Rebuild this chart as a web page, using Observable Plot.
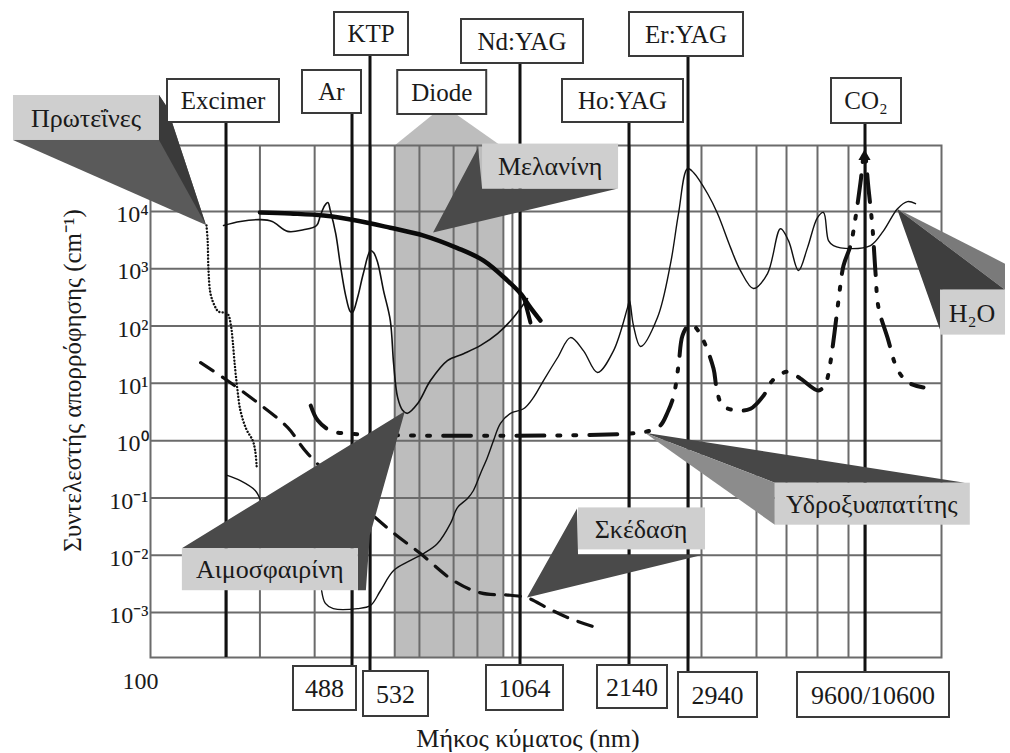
<!DOCTYPE html>
<html><head><meta charset="utf-8">
<script src="https://cdn.jsdelivr.net/npm/d3@7"></script>
<script src="https://cdn.jsdelivr.net/npm/@observablehq/plot@0.6"></script>
<style>body{margin:0;background:#fff;} #chart svg{display:block}</style>
</head><body><div id="chart"></div>
<script>
// ---------------- data (wavelength nm, absorption coefficient cm^-1) ----------------
const axisKnotWavelengths = [100, 308, 488, 532, 1064, 2140, 2940, 10600, 20000];
const yDecades = [1e-3, 1e-2, 1e-1, 1, 10, 100, 1e3, 1e4];
const yTickLabels = ["10⁻³", "10⁻²", "10⁻¹", "10⁰", "10¹", "10²", "10³", "10⁴"];
const xGridWavelengths = [308, 348, 425, 488, 532, 595, 667, 781, 872, 983, 1025, 1064, 2140, 2940, 3230, 4812, 5981, 7486, 9371, 10600];
const xStartLabel = ["100"];
const laserNames = ["Excimer", "Ar", "KTP", "Nd:YAG", "Ho:YAG", "Er:YAG", "CO₂"];
const laserWavelengths = [308, 488, 532, 1064, 2140, 2940, 10600];
const bottomLabels = ["488", "532", "1064", "2140", "2940", "9600/10600"];
const bottomLabelWavelengths = [488, 532, 1064, 2140, 2940, 10600];
const diodeName = "Diode";
const diodeBand = [595, 983];
const xTitle = "Μήκος κύματος (nm)";
const yTitle = "Συντελεστής απορρόφησης (cm⁻¹)";

const proteins = [[229,5700],[233,3100],[236,930],[243,370],[258,228],[274,179],[309,165],[313,102],[315,56],[317,25],[320,9.2],[324,3.4],[331,1.6],[339,1.0],[342,0.67],[344,0.33]];
const hemoglobin = [[295,5700],[324,6700],[349,7200],[364,6700],[385,4500],[408,4800],[428,5700],[434,8500],[441,12700],[446,14300],[450,10400],[459,4100],[467,1140],[476,341],[484,179],[488,172],[500,315],[514,826],[532,2080],[540,1900],[550,1280],[565,417],[583,125],[592,22],[603,5.7],[617,3.4],[631,3.0],[661,4.4],[702,11.2],[759,25],[818,33],[885,46],[957,74],[1030,141],[1113,302]];
const melanin = [[348,9600],[389,9200],[439,8500],[500,6900],[583,5200],[680,3800],[795,2300],[897,1390],[1002,622],[1064,370],[1134,210],[1209,125]];
const melaninTail = [[1090,300],[1134,115]];
const scattering = [[210,23],[309,11.2],[345,4.6],[385,1.7],[414,0.6],[575,0.03],[670,0.0107],[781,0.0036],[885,0.0022],[1016,0.002],[1113,0.0018],[1265,0.0012],[1438,8.2e-4],[1721,5.5e-4]];
const hydroxyapatite = [[419,4.1],[430,2.24],[450,1.5],[479,1.33],[2150,1.33],[2396,1.5],[2528,1.84],[2626,3.1],[2712,5.9],[2786,20.5],[2846,68],[2940,102],[3048,102],[3253,60.5],[3524,18.2],[3601,8.5],[3761,4.1],[4193,3.36],[4608,3.6],[5062,6.1],[5402,11.2],[6025,16],[6620,12.1],[7541,7.5],[7932,9.9],[8166,18.9],[8406,56],[8716,279],[9040,1140],[9508,2540],[9860,7800],[10222,32000],[10524,107000],[10870,25000],[11239,5200],[11524,859],[11816,210],[12741,63],[13851,17.4],[15185,10.3],[17206,8.5]];
const co2Peak = [[10524,107000]];
const water = [[436,2.4e-3],[442,1.44e-3],[455,1.17e-3],[500,1.17e-3],[532,1.33e-3],[557,2.4e-3],[592,5.4e-3],[640,8.1e-3],[680,0.0107],[725,0.016],[770,0.036],[795,0.068],[833,0.098],[856,0.135],[885,0.27],[913,0.51],[939,1.0],[970,2.0],[1016,3.0],[1085,3.6],[1157,5.7],[1233,11.2],[1349,28],[1466,63],[1594,37],[1743,15.5],[1931,37],[2113,210],[2140,279],[2186,102],[2271,44],[2488,141],[2669,1230],[2786,9200],[2924,56000],[3048,48000],[3374,20600],[3628,9200],[3987,2340],[4284,931],[4709,452],[5212,826],[5726,5000],[6067,3100],[6523,931],[6964,2340],[7486,7800],[7819,9600],[8107,3100],[8406,2540],[9508,2250],[11052,2540],[12318,4600],[13851,11200],[15060,14900],[16096,13700]];
const uvArc = [[308,0.25],[324,0.2],[342,0.135],[349,0.09]];

const calloutNames = ["Πρωτεΐνες", "Μελανίνη", "Αιμοσφαιρίνη", "Σκέδαση", "Υδροξυαπατίτης", "H₂O"];
const calloutTips = [[229,5700],[712,4200],[625,3.2],[1113,1.8e-3],[2330,1.35],[13851,11000]];

// ---------------- layout (pixels) ----------------
const layout = {
  xKnotPx: [150, 226, 352, 370, 520, 629, 688, 865, 941],
  topBoxes: [[-59,53,79,122],[-50,9,70,113],[-36,38,12,55],[-59,63,19,63],[-67,54,79,122],[-59,55,12,56],[-34,36,78,123]],
  lineBottom: [657, 666, 671, 665, 665, 672, 672],
  bottomBoxes: [[-59,4,666,710],[-7,58,671,716],[-34,43,665,710],[-32,38,665,708],[-10,69,672,717],[-68,84,672,717]],
  diodeBox: [3, 92, 70, 114],
  diodeTrap: {x: [1, 38, 63], rightInset: -3, top: 115, bottom: 145},
  callouts: [
    {box: [-193,-130,146,45], text: [-120,-107], faces: [
      {fill: "#5a5a5a", pts: [[-193,-85],[0,0],[-39,-118],[-47,-130]]},
      {fill: "#3a3a3a", pts: [[-47,-130],[-39,-118],[0,0],[-47,-85]]}]},
    {box: [49,-89,136,45], text: [117,-67], faces: [
      {fill: "#4a4a4a", pts: [[45,-85],[0,0],[185,-44],[49,-44]]}]},
    {box: [-223,137,176,42], text: [-135,158], faces: [
      {fill: "#4a4a4a", pts: [[-223,137],[0,0],[-35,124],[-39,179],[-47,179],[-47,137]]}]},
    {box: [51,-90,127,42], text: [114,-69], faces: [
      {fill: "#4a4a4a", pts: [[50,-89],[0,0],[177,-43],[51,-43]]}]},
    {box: [130,50,195,42], text: [227,71], faces: [
      {fill: "#474747", pts: [[0,0],[320,50],[130,50]]},
      {fill: "#8c8c8c", pts: [[0,0],[130,50],[130,92]]}]},
    {box: [43,81,65,45], text: [75,104], faces: [
      {fill: "#7a7a7a", pts: [[0,0],[108,55],[108,81]]},
      {fill: "#3e3e3e", pts: [[0,0],[108,81],[43,81],[43,121]]}]}
  ]
};
const FONT = '"Liberation Serif", "Times New Roman", serif';
const INK = "#1a1a1a";
const GRID = "#6b6b6b";

const yDomain = [10 ** -3.785, 10 ** 5.152];

function diodeTrapezoid(index, scales) {
  const X = scales.x;
  const g = d3.create("svg:g");
  const x0 = X(diodeBand[0]), x1 = X(diodeBand[1]);
  const t = layout.diodeTrap;
  g.append("path").attr("fill", "#bdbdbd")
    .attr("d", d3.line()([[x0 + t.x[0], t.bottom], [x0 + t.x[1], t.top], [x0 + t.x[2], t.top], [x1 + t.rightInset, t.bottom]]) + "Z");
  return g.node();
}

function laserLines(index, scales) {
  const X = scales.x;
  const g = d3.create("svg:g");
  laserWavelengths.forEach((w, i) => {
    const cx = X(w);
    g.append("line").attr("x1", cx).attr("x2", cx)
      .attr("y1", layout.topBoxes[i][3]).attr("y2", layout.lineBottom[i])
      .attr("stroke", "#111").attr("stroke-width", 3);
  });
  return g.node();
}

function callouts(index, scales) {
  const X = scales.x, Y = scales.y;
  const g = d3.create("svg:g");
  calloutNames.forEach((name, i) => {
    const tx = X(calloutTips[i][0]), ty = Y(calloutTips[i][1]);
    const c = layout.callouts[i];
    for (const f of c.faces) {
      g.append("path").attr("fill", f.fill)
        .attr("d", d3.line()(f.pts.map(([dx, dy]) => [tx + dx, ty + dy])) + "Z");
    }
    g.append("rect").attr("x", tx + c.box[0]).attr("y", ty + c.box[1])
      .attr("width", c.box[2]).attr("height", c.box[3]).attr("fill", "#cfcfcf");
    g.append("text").attr("x", tx + c.text[0]).attr("y", ty + c.text[1]).attr("dy", "0.35em")
      .attr("text-anchor", "middle").attr("font-size", 26).attr("fill", INK).attr("font-family", FONT).text(name);
  });
  return g.node();
}

function labelBoxes(index, scales) {
  const X = scales.x;
  const g = d3.create("svg:g");
  const box = (cx, [l, r, t, b], text, size) => {
    g.append("rect").attr("x", cx + l).attr("y", t).attr("width", r - l).attr("height", b - t)
      .attr("fill", "white").attr("stroke", "#3a3a3a").attr("stroke-width", 2);
    g.append("text").attr("x", cx + (l + r) / 2).attr("y", (t + b) / 2).attr("dy", "0.35em")
      .attr("text-anchor", "middle").attr("font-size", size).attr("fill", INK).attr("font-family", FONT).text(text);
  };
  laserNames.forEach((n, i) => box(X(laserWavelengths[i]), layout.topBoxes[i], n, 25));
  bottomLabels.forEach((n, i) => box(X(bottomLabelWavelengths[i]), layout.bottomBoxes[i], n, 26));
  box(X(diodeBand[0]), layout.diodeBox, diodeName, 25);
  return g.node();
}

const chart = Plot.plot({
  width: 1010, height: 753,
  marginTop: 145, marginBottom: 96, marginLeft: 150, marginRight: 69,
  style: {fontFamily: FONT, background: "white", color: INK, overflow: "visible"},
  x: {type: "log", domain: axisKnotWavelengths, range: layout.xKnotPx, axis: null},
  y: {type: "log", domain: yDomain, axis: null},
  marks: [
    Plot.rect([diodeBand], {x1: d => d[0], x2: d => d[1], y1: () => yDomain[0], y2: () => yDomain[1], fill: "#bdbdbd"}),
    diodeTrapezoid,
    Plot.ruleY(yDecades, {stroke: GRID, strokeWidth: 2}),
    Plot.ruleX(xGridWavelengths, {stroke: GRID, strokeWidth: 2}),
    Plot.frame({stroke: GRID, strokeWidth: 2}),
    laserLines,
    Plot.line(water, {stroke: "#111", strokeWidth: 1.4, curve: "catmull-rom"}),
    Plot.line(uvArc, {stroke: "#111", strokeWidth: 1.4, curve: "catmull-rom"}),
    Plot.line(hemoglobin, {stroke: "#111", strokeWidth: 1.6, curve: "catmull-rom"}),
    Plot.line(melanin, {stroke: "#0a0a0a", strokeWidth: 4.5, curve: "catmull-rom"}),
    Plot.line(melaninTail, {stroke: "#0a0a0a", strokeWidth: 4}),
    Plot.line(proteins, {stroke: "#111", strokeWidth: 2.4, strokeDasharray: "0.1,3.2", strokeLinecap: "round", curve: "catmull-rom"}),
    Plot.line(scattering, {stroke: "#111", strokeWidth: 3.2, strokeDasharray: "15,11", curve: "catmull-rom"}),
    Plot.line(hydroxyapatite, {stroke: "#111", strokeWidth: 4, strokeDasharray: "28,13,3,13,3,13", curve: "catmull-rom"}),
    Plot.dot(co2Peak, {symbol: "triangle", r: 4.5, fill: "#111", stroke: null, dy: 4}),
    callouts,
    labelBoxes,
    Plot.text(yDecades, {y: d => d, text: (d, i) => yTickLabels[i], frameAnchor: "left", textAnchor: "end", lineAnchor: "middle", dx: -2, dy: 3, fontSize: 24, fill: INK}),
    Plot.text(xStartLabel, {x: () => 100, text: d => d, frameAnchor: "bottom", textAnchor: "middle", lineAnchor: "middle", dx: -10, dy: 24, fontSize: 24, fill: INK}),
    Plot.text([xTitle], {text: d => d, frameAnchor: "bottom", textAnchor: "middle", lineAnchor: "middle", dx: -18, dy: 81, fontSize: 26, fill: INK}),
    Plot.text([yTitle], {text: d => d, frameAnchor: "left", textAnchor: "middle", lineAnchor: "middle", rotate: -90, dx: -78, dy: -21, fontSize: 25, fill: INK})
  ]
});
document.getElementById("chart").append(chart);
</script>
</body></html>
